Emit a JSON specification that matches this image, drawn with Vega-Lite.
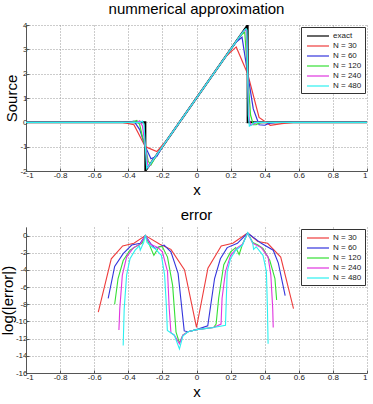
{
  "$schema": "https://vega.github.io/schema/vega-lite/v6.json",
  "padding": {"left": 0, "top": 2, "right": 0, "bottom": 0},
  "spacing": 11,
  "config": {
    "font": "Liberation Sans",
    "view": {"stroke": null},
    "axis": {
      "labelFontSize": 8, "labelColor": "#222", "labelPadding": 3,
      "titleFontSize": 15, "titleFontWeight": "normal", "titleColor": "#000",
      "domainColor": "#555", "gridColor": "#999", "gridDash": [1, 2],
      "ticks": true, "tickSize": -3, "tickColor": "#555"
    },
    "axisY": {"titlePadding": 0, "labelPadding": 2},
    "axisX": {"titlePadding": 3},
    "title": {"fontSize": 15, "fontWeight": "normal", "font": "Liberation Sans", "color": "#000", "offset": 4},
    "legend": {
      "orient": "top-right", "offset": 2, "strokeColor": "#333", "fillColor": "white",
      "padding": 3, "labelFontSize": 8, "labelColor": "#222",
      "symbolType": "M-2.2,0H2.2", "symbolSize": 100, "symbolStrokeWidth": 1.2,
      "symbolOffset": 8, "labelOffset": 9, "rowPadding": 0, "cornerRadius": 0
    }
  },
  "datasets": {
    "src": [
      {"s":"exact","x":-1,"y":0},{"s":"exact","x":-0.3,"y":0},{"s":"exact","x":-0.3,"y":-2},{"s":"exact","x":0.3,"y":4},{"s":"exact","x":0.3,"y":0},{"s":"exact","x":1,"y":0},
      {"s":"N = 30","x":-1,"y":0},{"s":"N = 30","x":-0.433,"y":0},{"s":"N = 30","x":-0.367,"y":-0.1},{"s":"N = 30","x":-0.3,"y":-1.0},{"s":"N = 30","x":-0.233,"y":-1.2},{"s":"N = 30","x":-0.167,"y":-0.67},{"s":"N = 30","x":0.167,"y":2.67},{"s":"N = 30","x":0.233,"y":3.1},{"s":"N = 30","x":0.3,"y":2.0},{"s":"N = 30","x":0.367,"y":0.2},{"s":"N = 30","x":0.433,"y":-0.12},{"s":"N = 30","x":0.5,"y":-0.05},{"s":"N = 30","x":0.567,"y":0},{"s":"N = 30","x":1,"y":0},
      {"s":"N = 60","x":-1,"y":0},{"s":"N = 60","x":-0.4,"y":0},{"s":"N = 60","x":-0.367,"y":0.05},{"s":"N = 60","x":-0.333,"y":-0.3},{"s":"N = 60","x":-0.3,"y":-1.0},{"s":"N = 60","x":-0.267,"y":-1.5},{"s":"N = 60","x":-0.233,"y":-1.4},{"s":"N = 60","x":-0.2,"y":-1.0},{"s":"N = 60","x":0.2,"y":3.0},{"s":"N = 60","x":0.233,"y":3.3},{"s":"N = 60","x":0.267,"y":3.5},{"s":"N = 60","x":0.3,"y":2.0},{"s":"N = 60","x":0.333,"y":0.55},{"s":"N = 60","x":0.367,"y":-0.1},{"s":"N = 60","x":0.4,"y":-0.12},{"s":"N = 60","x":0.433,"y":-0.03},{"s":"N = 60","x":0.467,"y":0},{"s":"N = 60","x":1,"y":0},
      {"s":"N = 120","x":-1,"y":0},{"s":"N = 120","x":-0.383,"y":0},{"s":"N = 120","x":-0.35,"y":0.08},{"s":"N = 120","x":-0.333,"y":-0.1},{"s":"N = 120","x":-0.317,"y":-0.6},{"s":"N = 120","x":-0.3,"y":-1.0},{"s":"N = 120","x":-0.283,"y":-1.6},{"s":"N = 120","x":-0.267,"y":-1.75},{"s":"N = 120","x":-0.25,"y":-1.55},{"s":"N = 120","x":-0.233,"y":-1.33},{"s":"N = 120","x":0.25,"y":3.5},{"s":"N = 120","x":0.267,"y":3.62},{"s":"N = 120","x":0.283,"y":3.7},{"s":"N = 120","x":0.3,"y":2.0},{"s":"N = 120","x":0.317,"y":0.3},{"s":"N = 120","x":0.333,"y":-0.1},{"s":"N = 120","x":0.35,"y":-0.1},{"s":"N = 120","x":0.367,"y":-0.03},{"s":"N = 120","x":0.383,"y":0},{"s":"N = 120","x":1,"y":0},
      {"s":"N = 240","x":-1,"y":0},{"s":"N = 240","x":-0.35,"y":0},{"s":"N = 240","x":-0.333,"y":0.06},{"s":"N = 240","x":-0.317,"y":-0.15},{"s":"N = 240","x":-0.3,"y":-1.0},{"s":"N = 240","x":-0.283,"y":-1.85},{"s":"N = 240","x":-0.275,"y":-1.78},{"s":"N = 240","x":-0.267,"y":-1.67},{"s":"N = 240","x":0.267,"y":3.67},{"s":"N = 240","x":0.283,"y":3.8},{"s":"N = 240","x":0.292,"y":3.75},{"s":"N = 240","x":0.3,"y":2.0},{"s":"N = 240","x":0.308,"y":0.2},{"s":"N = 240","x":0.317,"y":-0.12},{"s":"N = 240","x":0.333,"y":-0.08},{"s":"N = 240","x":0.35,"y":0},{"s":"N = 240","x":1,"y":0},
      {"s":"N = 480","x":-1,"y":0},{"s":"N = 480","x":-0.33,"y":0},{"s":"N = 480","x":-0.317,"y":0.05},{"s":"N = 480","x":-0.308,"y":-0.1},{"s":"N = 480","x":-0.3,"y":-1.0},{"s":"N = 480","x":-0.292,"y":-1.9},{"s":"N = 480","x":-0.283,"y":-1.82},{"s":"N = 480","x":-0.27,"y":-1.7},{"s":"N = 480","x":0.27,"y":3.7},{"s":"N = 480","x":0.29,"y":3.85},{"s":"N = 480","x":0.296,"y":3.8},{"s":"N = 480","x":0.3,"y":2.0},{"s":"N = 480","x":0.304,"y":0.3},{"s":"N = 480","x":0.31,"y":-0.15},{"s":"N = 480","x":0.325,"y":-0.1},{"s":"N = 480","x":0.34,"y":0},{"s":"N = 480","x":1,"y":0}
    ],
    "err": [
      {"s":"N = 30","x":-0.576,"y":-8.9},{"s":"N = 30","x":-0.5,"y":-2.7},{"s":"N = 30","x":-0.433,"y":-1.2},{"s":"N = 30","x":-0.367,"y":-0.9},{"s":"N = 30","x":-0.3,"y":0},{"s":"N = 30","x":-0.215,"y":-1.0},{"s":"N = 30","x":-0.15,"y":-1.6},{"s":"N = 30","x":-0.07,"y":-4.0},{"s":"N = 30","x":0,"y":-10.7},{"s":"N = 30","x":0.067,"y":-3.8},{"s":"N = 30","x":0.145,"y":-1.2},{"s":"N = 30","x":0.213,"y":-0.9},{"s":"N = 30","x":0.3,"y":0.3},{"s":"N = 30","x":0.36,"y":-0.7},{"s":"N = 30","x":0.417,"y":-0.9},{"s":"N = 30","x":0.494,"y":-2.5},{"s":"N = 30","x":0.569,"y":-8.5},
      {"s":"N = 60","x":-0.518,"y":-7.3},{"s":"N = 60","x":-0.48,"y":-3.6},{"s":"N = 60","x":-0.43,"y":-2.1},{"s":"N = 60","x":-0.38,"y":-1.1},{"s":"N = 60","x":-0.33,"y":-0.9},{"s":"N = 60","x":-0.3,"y":0},{"s":"N = 60","x":-0.27,"y":-0.9},{"s":"N = 60","x":-0.245,"y":-1.5},{"s":"N = 60","x":-0.19,"y":-1.1},{"s":"N = 60","x":-0.15,"y":-1.9},{"s":"N = 60","x":-0.108,"y":-4.4},{"s":"N = 60","x":-0.072,"y":-11.1},{"s":"N = 60","x":-0.05,"y":-11.2},{"s":"N = 60","x":0,"y":-10.95},{"s":"N = 60","x":0.066,"y":-10.5},{"s":"N = 60","x":0.106,"y":-5.0},{"s":"N = 60","x":0.14,"y":-2.7},{"s":"N = 60","x":0.18,"y":-1.4},{"s":"N = 60","x":0.24,"y":-0.9},{"s":"N = 60","x":0.3,"y":0.3},{"s":"N = 60","x":0.38,"y":-0.9},{"s":"N = 60","x":0.45,"y":-1.7},{"s":"N = 60","x":0.48,"y":-3.2},{"s":"N = 60","x":0.52,"y":-7.0},
      {"s":"N = 120","x":-0.48,"y":-8.0},{"s":"N = 120","x":-0.46,"y":-5},{"s":"N = 120","x":-0.43,"y":-2.9},{"s":"N = 120","x":-0.39,"y":-1.7},{"s":"N = 120","x":-0.35,"y":-1.2},{"s":"N = 120","x":-0.32,"y":-0.9},{"s":"N = 120","x":-0.3,"y":0},{"s":"N = 120","x":-0.28,"y":-0.9},{"s":"N = 120","x":-0.25,"y":-2.3},{"s":"N = 120","x":-0.22,"y":-1.3},{"s":"N = 120","x":-0.2,"y":-1.3},{"s":"N = 120","x":-0.17,"y":-2.5},{"s":"N = 120","x":-0.14,"y":-5.8},{"s":"N = 120","x":-0.12,"y":-11.25},{"s":"N = 120","x":-0.1,"y":-12.5},{"s":"N = 120","x":-0.08,"y":-11.6},{"s":"N = 120","x":-0.05,"y":-11.2},{"s":"N = 120","x":0,"y":-10.95},{"s":"N = 120","x":0.1,"y":-10.7},{"s":"N = 120","x":0.115,"y":-10.3},{"s":"N = 120","x":0.13,"y":-7.3},{"s":"N = 120","x":0.16,"y":-3.4},{"s":"N = 120","x":0.2,"y":-1.9},{"s":"N = 120","x":0.23,"y":-1.4},{"s":"N = 120","x":0.25,"y":-2.2},{"s":"N = 120","x":0.27,"y":-1.0},{"s":"N = 120","x":0.3,"y":0.3},{"s":"N = 120","x":0.33,"y":-0.8},{"s":"N = 120","x":0.36,"y":-1.1},{"s":"N = 120","x":0.39,"y":-1.5},{"s":"N = 120","x":0.43,"y":-2.9},{"s":"N = 120","x":0.46,"y":-5},{"s":"N = 120","x":0.47,"y":-7.5},
      {"s":"N = 240","x":-0.455,"y":-11},{"s":"N = 240","x":-0.45,"y":-8.5},{"s":"N = 240","x":-0.435,"y":-4.6},{"s":"N = 240","x":-0.41,"y":-2.5},{"s":"N = 240","x":-0.37,"y":-1.4},{"s":"N = 240","x":-0.33,"y":-1.0},{"s":"N = 240","x":-0.3,"y":0},{"s":"N = 240","x":-0.27,"y":-1.0},{"s":"N = 240","x":-0.225,"y":-1.4},{"s":"N = 240","x":-0.2,"y":-1.9},{"s":"N = 240","x":-0.17,"y":-4.2},{"s":"N = 240","x":-0.16,"y":-8.5},{"s":"N = 240","x":-0.15,"y":-11.3},{"s":"N = 240","x":-0.13,"y":-11.6},{"s":"N = 240","x":-0.1,"y":-12.6},{"s":"N = 240","x":-0.08,"y":-11.6},{"s":"N = 240","x":-0.05,"y":-11.2},{"s":"N = 240","x":0,"y":-10.95},{"s":"N = 240","x":0.1,"y":-10.7},{"s":"N = 240","x":0.144,"y":-10.3},{"s":"N = 240","x":0.15,"y":-7.3},{"s":"N = 240","x":0.17,"y":-4.2},{"s":"N = 240","x":0.2,"y":-2.3},{"s":"N = 240","x":0.24,"y":-1.4},{"s":"N = 240","x":0.27,"y":-1.0},{"s":"N = 240","x":0.3,"y":0.3},{"s":"N = 240","x":0.33,"y":-0.9},{"s":"N = 240","x":0.38,"y":-1.4},{"s":"N = 240","x":0.42,"y":-2.5},{"s":"N = 240","x":0.436,"y":-4.6},{"s":"N = 240","x":0.447,"y":-8.5},{"s":"N = 240","x":0.45,"y":-10.7},
      {"s":"N = 480","x":-0.43,"y":-12.8},{"s":"N = 480","x":-0.424,"y":-8.5},{"s":"N = 480","x":-0.41,"y":-4.6},{"s":"N = 480","x":-0.39,"y":-2.7},{"s":"N = 480","x":-0.36,"y":-1.7},{"s":"N = 480","x":-0.335,"y":-1.2},{"s":"N = 480","x":-0.33,"y":-1.7},{"s":"N = 480","x":-0.31,"y":-0.8},{"s":"N = 480","x":-0.3,"y":0.05},{"s":"N = 480","x":-0.29,"y":-0.8},{"s":"N = 480","x":-0.27,"y":-1.2},{"s":"N = 480","x":-0.245,"y":-1.5},{"s":"N = 480","x":-0.206,"y":-2.3},{"s":"N = 480","x":-0.187,"y":-4.6},{"s":"N = 480","x":-0.177,"y":-8.1},{"s":"N = 480","x":-0.171,"y":-11.05},{"s":"N = 480","x":-0.13,"y":-11.6},{"s":"N = 480","x":-0.1,"y":-13.2},{"s":"N = 480","x":-0.08,"y":-11.7},{"s":"N = 480","x":-0.05,"y":-11.2},{"s":"N = 480","x":0,"y":-10.95},{"s":"N = 480","x":0.1,"y":-10.7},{"s":"N = 480","x":0.17,"y":-10.45},{"s":"N = 480","x":0.175,"y":-7.3},{"s":"N = 480","x":0.18,"y":-4.2},{"s":"N = 480","x":0.2,"y":-2.65},{"s":"N = 480","x":0.23,"y":-1.7},{"s":"N = 480","x":0.27,"y":-1.1},{"s":"N = 480","x":0.3,"y":0.35},{"s":"N = 480","x":0.33,"y":-0.9},{"s":"N = 480","x":0.335,"y":-1.6},{"s":"N = 480","x":0.35,"y":-1.3},{"s":"N = 480","x":0.39,"y":-2.3},{"s":"N = 480","x":0.41,"y":-4.2},{"s":"N = 480","x":0.416,"y":-8.5},{"s":"N = 480","x":0.42,"y":-12.6}
    ]
  },
  "resolve": {"scale": {"color": "independent"}, "legend": {"color": "independent"}},
  "vconcat": [
    {
      "title": "nummerical approximation",
      "width": 341, "height": 146,
      "data": {"name": "src"},
      "encoding": {
        "x": {"field": "x", "type": "quantitative", "scale": {"domain": [-1, 1], "nice": false},
              "axis": {"values": [-1,-0.8,-0.6,-0.4,-0.2,0,0.2,0.4,0.6,0.8,1], "title": "x", "labelExpr": "datum.value < 0 ? '-' + format(-datum.value, '~g') : format(datum.value, '~g')"}},
        "y": {"field": "y", "type": "quantitative", "scale": {"domain": [-2, 4], "nice": false},
              "axis": {"values": [-2,-1,0,1,2,3,4], "title": "Source", "labelExpr": "datum.value < 0 ? '-' + format(-datum.value, '~g') : format(datum.value, '~g')"}},
        "order": {"value": null}
      },
      "layer": [
        {"transform": [{"filter": "datum.s === 'exact'"}], "mark": {"type": "line", "clip": true, "strokeWidth": 2, "color": "#000000"}},
        {"transform": [{"filter": "datum.s !== 'exact'"}], "mark": {"type": "line", "clip": true, "strokeWidth": 1.2},
         "encoding": {
           "color": {"field": "s", "type": "nominal", "title": null,
                     "scale": {"domain": ["exact","N = 30","N = 60","N = 120","N = 240","N = 480"], "range": ["#000000","#ee3c3c","#3434dc","#34e034","#e034e0","#2cf0f0"]}}
         }}
      ]
    },
    {
      "title": "error",
      "width": 341, "height": 146,
      "data": {"name": "err"},
      "mark": {"type": "line", "clip": true, "strokeWidth": 1.1},
      "encoding": {
        "x": {"field": "x", "type": "quantitative", "scale": {"domain": [-1, 1], "nice": false},
              "axis": {"values": [-1,-0.8,-0.6,-0.4,-0.2,0,0.2,0.4,0.6,0.8,1], "title": "x", "labelExpr": "datum.value < 0 ? '-' + format(-datum.value, '~g') : format(datum.value, '~g')"}},
        "y": {"field": "y", "type": "quantitative", "scale": {"domain": [-16, 1], "nice": false},
              "axis": {"values": [-16,-14,-12,-10,-8,-6,-4,-2,0], "title": "log(|error|)", "titleFontSize": 15, "labelExpr": "datum.value < 0 ? '-' + format(-datum.value, '~g') : format(datum.value, '~g')"}},
        "color": {"field": "s", "type": "nominal", "title": null,
                  "scale": {"domain": ["N = 30","N = 60","N = 120","N = 240","N = 480"], "range": ["#ee3c3c","#3434dc","#34e034","#e034e0","#2cf0f0"]}},
        "order": {"value": null}
      }
    }
  ]
}
